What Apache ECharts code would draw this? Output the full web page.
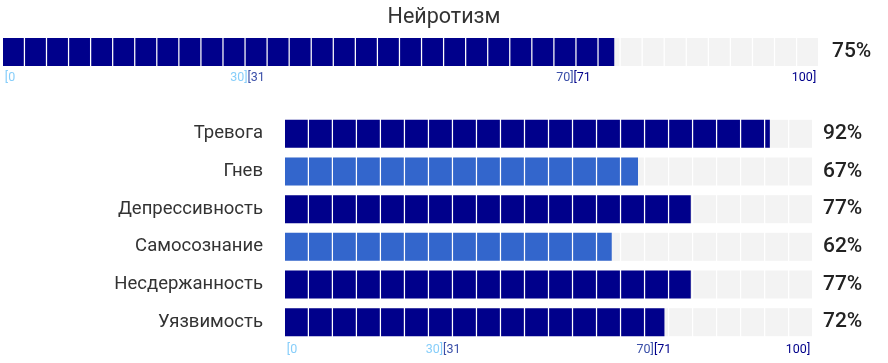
<!DOCTYPE html>
<html>
<head>
<meta charset="utf-8">
<script src="https://cdn.jsdelivr.net/npm/echarts@6/dist/echarts.min.js"></script>
<style>
html,body{margin:0;padding:0;background:#fff;}
#main{width:888px;height:363px;}
</style>
</head>
<body>
<div id="main"></div>
<script>
// ---- data ----
const titleText = 'Нейротизм';
const mainValue = 75;
const categories = ['Тревога', 'Гнев', 'Депрессивность', 'Самосознание', 'Несдержанность', 'Уязвимость'];
const values = [92, 67, 77, 62, 77, 72];
const tickLabels = { 0: '{l|[0}', 30: '{l|30]}{m|[31}', 70: '{m|70]}{d|[71}', 100: '{d|100]}' };
const axisMax = 100;

// ---- style ----
const C_LIGHT = '#87CEFA', C_MED = '#3366CC', C_DARK = '#00008B', C_BG = '#f3f3f3';
function colorFor(v) { return v > 70 ? C_DARK : (v > 30 ? C_MED : C_LIGHT); }
const FONT = 'Roboto';

function tickFormatter(v) {
  if (v === 0) return '{pad0|}' + '{l0|[0}';
  if (v === 100) return '{d100|100]}' + '{pad100|}';
  return tickLabels[v] || '';
}
const TF = 12.5;
const tickRich = {
  l: { color: C_LIGHT, fontSize: TF, fontFamily: FONT },
  m: { color: '#3a4fa8', fontSize: TF, fontFamily: FONT },
  d: { color: C_DARK, fontSize: TF, fontFamily: FONT },
  l0: { color: C_LIGHT, fontSize: TF, fontFamily: FONT, width: 14, align: 'left' },
  pad0: { width: 14 },
  d100: { color: C_DARK, fontSize: TF, fontFamily: FONT, width: 28, align: 'right' },
  pad100: { width: 28 }
};

const chart = echarts.init(document.getElementById('main'), null, { renderer: 'canvas' });
chart.setOption({
  animation: false,
  textStyle: { fontFamily: FONT },
  title: {
    text: titleText, left: 'center', top: 2,
    textStyle: { fontFamily: FONT, fontSize: 21.5, fontWeight: 'normal', color: '#333' }
  },
  grid: [
    { left: 3, right: 70, top: 38, height: 28, outerBoundsMode: 'none', containLabel: false },
    { left: 285, right: 76, top: 115, height: 226, outerBoundsMode: 'none', containLabel: false }
  ],
  xAxis: [
    { gridIndex: 0, type: 'value', min: 0, max: axisMax, interval: 10,
      axisLine: { show: false }, axisTick: { show: false }, splitLine: { show: false },
      axisLabel: { margin: 5, formatter: tickFormatter, rich: tickRich, hideOverlap: false } },
    { gridIndex: 1, type: 'value', min: 0, max: axisMax, interval: 10,
      axisLine: { show: false }, axisTick: { show: false }, splitLine: { show: false },
      axisLabel: { margin: 2, formatter: tickFormatter, rich: tickRich, hideOverlap: false } }
  ],
  yAxis: [
    { gridIndex: 0, type: 'category', data: [titleText], show: false },
    { gridIndex: 0, type: 'category', data: [mainValue + '%'], position: 'right',
      axisLine: { show: false }, axisTick: { show: false },
      axisLabel: { margin: 14, align: 'left', fontSize: 21, fontWeight: 500, color: '#222', fontFamily: FONT } },
    { gridIndex: 1, type: 'category', data: categories, inverse: true,
      axisLine: { show: false }, axisTick: { show: false },
      axisLabel: { margin: 22, fontSize: 18.5, color: '#333', fontFamily: FONT } },
    { gridIndex: 1, type: 'category', data: values.map(v => v + '%'), inverse: true, position: 'right',
      axisLine: { show: false }, axisTick: { show: false },
      axisLabel: { margin: 11, align: 'left', fontSize: 21, fontWeight: 500, color: '#222', fontFamily: FONT } }
  ],
  series: [
    { type: 'pictorialBar', xAxisIndex: 0, yAxisIndex: 0, data: [axisMax],
      symbol: 'rect', symbolRepeat: 37, symbolSize: [20.8, 28], symbolBoundingData: axisMax,
      symbolPosition: 'start', itemStyle: { color: C_BG }, z: 1, silent: true },
    { type: 'pictorialBar', xAxisIndex: 0, yAxisIndex: 0,
      data: [{ value: mainValue, itemStyle: { color: colorFor(mainValue) } }],
      symbol: 'rect', symbolRepeat: 37, symbolSize: [20.8, 28], symbolBoundingData: axisMax,
      symbolClip: true, symbolPosition: 'start', z: 2 },
    { type: 'pictorialBar', xAxisIndex: 1, yAxisIndex: 2, data: categories.map(() => axisMax),
      symbol: 'rect', symbolRepeat: 22, symbolSize: [22.75, 28], symbolBoundingData: axisMax,
      symbolPosition: 'start', itemStyle: { color: C_BG }, z: 1, silent: true },
    { type: 'pictorialBar', xAxisIndex: 1, yAxisIndex: 2,
      data: values.map(v => ({ value: v, itemStyle: { color: colorFor(v) } })),
      symbol: 'rect', symbolRepeat: 22, symbolSize: [22.75, 28], symbolBoundingData: axisMax,
      symbolClip: true, symbolPosition: 'start', z: 2 }
  ]
});
</script>
</body>
</html>
